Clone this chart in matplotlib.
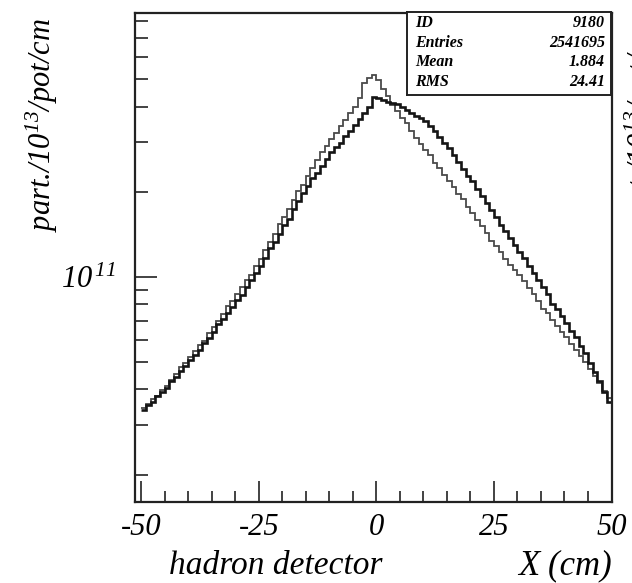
import numpy as np
import matplotlib
matplotlib.use('Agg')
import matplotlib.pyplot as plt
from matplotlib.ticker import FixedLocator, NullFormatter

plt.rcParams['font.family'] = ['Liberation Serif', 'DejaVu Serif']
plt.rcParams['font.style'] = 'italic'
plt.rcParams['mathtext.fontset'] = 'custom'
plt.rcParams['mathtext.rm'] = 'Liberation Serif:italic'
plt.rcParams['mathtext.it'] = 'Liberation Serif:italic'

# histogram bins, 1 cm wide
bin_edges = list(range(-50, 51))

# contents in units of 1e10 part./1e13 pot/cm
solid_vals = [
    3.39, 3.52, 3.60, 3.78, 3.91, 4.06, 4.30, 4.44, 4.63, 4.84,
    5.07, 5.31, 5.50, 5.82, 6.10, 6.40, 6.80, 7.08, 7.45, 7.82,
    8.26, 8.65, 9.23, 9.75, 10.30, 10.96, 11.69, 12.60, 13.30, 14.22,
    15.20, 16.05, 17.34, 18.53, 19.77, 20.94, 22.40, 23.39, 24.72, 26.12,
    27.54, 28.77, 29.80, 31.41, 32.81, 34.36, 36.14, 38.02, 39.81, 43.25,
    42.86, 42.17, 41.69, 41.21, 40.74, 39.81, 38.90, 38.02, 37.15, 36.31,
    35.48, 34.12, 32.73, 31.26, 29.85, 28.51, 26.98, 25.47, 24.10, 22.75,
    21.80, 20.37, 19.28, 18.24, 17.26, 16.33, 15.20, 14.55, 13.74, 12.97,
    12.25, 11.70, 10.91, 10.30, 9.73, 9.18, 8.67, 8.05, 7.73, 7.29,
    6.87, 6.46, 6.15, 5.70, 5.36, 4.98, 4.62, 4.28, 3.93, 3.62,
]
dotted_vals = [
    3.43, 3.56, 3.69, 3.78, 3.97, 4.13, 4.33, 4.52, 4.80, 4.95,
    5.20, 5.46, 5.73, 5.95, 6.31, 6.64, 7.00, 7.38, 7.90, 8.20,
    8.67, 9.18, 9.73, 10.15, 10.91, 11.61, 12.42, 13.27, 14.19, 15.40,
    16.26, 17.42, 18.66, 20.04, 21.20, 22.80, 24.27, 25.82, 27.70, 28.91,
    30.62, 32.28, 34.04, 35.89, 37.84, 39.81, 43.00, 48.53, 50.47, 51.76,
    49.66, 46.24, 43.65, 40.55, 38.46, 36.31, 35.10, 32.73, 31.05, 29.51,
    28.18, 26.92, 25.30, 24.27, 23.01, 21.78, 20.75, 19.68, 18.90, 17.70,
    16.79, 15.92, 15.10, 14.32, 13.40, 12.88, 12.22, 11.59, 10.99, 10.55,
    10.19, 9.66, 9.16, 8.68, 8.24, 7.73, 7.43, 7.06, 6.72, 6.38,
    6.15, 5.79, 5.52, 5.26, 5.01, 4.74, 4.48, 4.22, 3.96, 3.72,
]
scale = 1e10

stats_names = ['ID', 'Entries', 'Mean', 'RMS']
stats_values = ['9180', '2541695', '1.884', '24.41']

x_major = [-50, -25, 0, 25, 50]
x_labels = ['-50', '-25', '0', '25', '50']
x_minor = [-45, -40, -35, -30, -20, -15, -10, -5, 5, 10, 15, 20, 30, 35, 40, 45]
y_major = [1e11]
y_major_labels = ['10$^{\\,11}$']
y_minor = [2e10, 3e10, 4e10, 5e10, 6e10, 7e10, 8e10, 9e10,
           2e11, 3e11, 4e11, 5e11, 6e11, 7e11, 8e11]

W, H = 632, 583
fig = plt.figure(figsize=(W / 100, H / 100), dpi=100)
ax = fig.add_axes([135 / W, 1 - 502 / H, (612 - 135) / W, (502 - 13) / H])

ax.stairs(np.array(dotted_vals) * scale, bin_edges, baseline=None,
          color='#4a4a4a', lw=1.3)
ax.stairs(np.array(solid_vals) * scale, bin_edges, baseline=None,
          color='#151515', lw=1.9)

ax.set_yscale('log')
ax.set_xlim(-51.3, 50.1)
ax.set_ylim(1.60e10, 8.57e11)

ax.xaxis.set_major_locator(FixedLocator(x_major))
ax.xaxis.set_minor_locator(FixedLocator(x_minor))
ax.set_xticklabels(x_labels)
ax.yaxis.set_major_locator(FixedLocator(y_major))
ax.yaxis.set_minor_locator(FixedLocator(y_minor))
ax.set_yticklabels(y_major_labels)
ax.yaxis.set_minor_formatter(NullFormatter())

ax.tick_params(which='both', direction='in', top=False, right=False,
               color='#222222', width=1.2, labelsize=22)
ax.tick_params(axis='x', which='major', length=15, pad=8)
ax.tick_params(axis='x', which='minor', length=8)
ax.tick_params(axis='y', which='major', length=16, pad=14)
ax.tick_params(axis='y', which='minor', length=9.5)
for s in ax.spines.values():
    s.set_linewidth(1.6)
    s.set_color('#222222')

# axis titles
fig.text(276 / W, 1 - 566 / H, 'hadron detector', fontsize=24,
         ha='center', va='center')
fig.text(612 / W, 1 - 566 / H, 'X (cm)', fontsize=25,
         ha='right', va='center')
fig.text(42 / W, 1 - 18 / H, 'part./10$^{13}$/pot/cm', fontsize=22,
         rotation=90, ha='center', va='top')
# neighbouring panel's title, cut by the page edge as in the scan
fig.text(641 / W, 1 - 18 / H, 'part./10$^{13}$/pot/cm', fontsize=22,
         rotation=90, ha='center', va='top')

# stats box
box = fig.add_axes([407 / W, 1 - 95 / H, (611 - 407) / W, (95 - 12) / H])
box.set_xticks([])
box.set_yticks([])
for s in box.spines.values():
    s.set_linewidth(1.4)
    s.set_color('#222222')
for i, (name, val) in enumerate(zip(stats_names, stats_values)):
    yy = 0.87 - i * 0.238
    box.text(0.04, yy, name, fontsize=11.5, fontweight='bold',
             ha='left', va='center', transform=box.transAxes)
    box.text(0.97, yy, val, fontsize=11.5, fontweight='bold',
             ha='right', va='center', transform=box.transAxes)

fig.savefig('out.png', dpi=100)
